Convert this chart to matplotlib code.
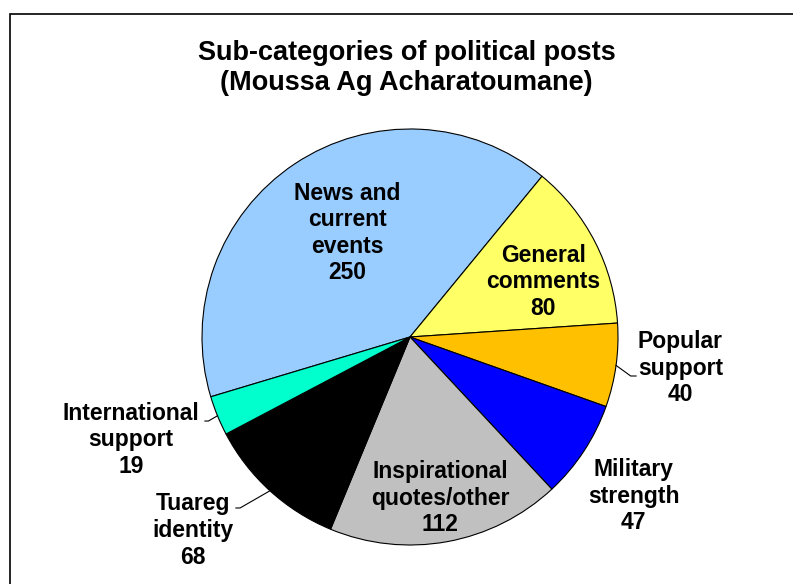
import matplotlib.pyplot as plt
import matplotlib.patches as mpatches
import numpy as np

plt.rcParams['font.family'] = ['Liberation Sans', 'DejaVu Sans']

# Sub-categories of political posts
categories = ['News and\ncurrent\nevents', 'General\ncomments', 'Popular\nsupport',
              'Military\nstrength', 'Inspirational\nquotes/other', 'Tuareg\nidentity',
              'International\nsupport']
values = [250, 80, 40, 47, 112, 68, 19]
colors = ['#99CCFF', '#FFFF66', '#FFC000', '#0000FF', '#C0C0C0', '#000000', '#00FFCC']

# label anchor positions (pie data units, radius = 1)
label_pos = [(-0.30, 0.50), (0.64, 0.265), (1.30, -0.15), (1.075, -0.765),
             (0.145, -0.775), (-1.045, -0.93), (-1.34, -0.495)]
# leader lines: (elbow, end) for labels placed outside the pie
leaders = {2: ((1.061, -0.1875), (1.087, -0.1875)),
           5: ((-0.817, -0.822), (-0.837, -0.822)),
           6: ((-0.969, -0.404), (-0.986, -0.404))}

fig = plt.figure(figsize=(7.93, 5.84), dpi=100)
fig.patches.append(mpatches.Rectangle((10 / 793, -0.1), 1.2, 1.1 - 14 / 584,
                                      transform=fig.transFigure, fill=False,
                                      edgecolor='black', linewidth=1.2))

fig.text(0.513, 1 - 68 / 584, "Sub-categories of political posts\n(Moussa Ag Acharatoumane)",
         ha='center', va='center', fontsize=19.5, fontweight='bold', linespacing=1.22)

ax = fig.add_axes([202 / 793, 39 / 584, 416 / 793, 416 / 584])
wedges, _ = ax.pie(values, colors=colors, startangle=196.7, counterclock=False,
                   wedgeprops=dict(edgecolor='black', linewidth=0.8))
ax.set_xlim(-1, 1)
ax.set_ylim(-1, 1)

for i, (w, lab, val) in enumerate(zip(wedges, categories, values)):
    x, y = label_pos[i]
    ax.text(x, y, f"{lab}\n{val}", ha='center', va='center', fontsize=16.5,
            fontweight='bold', linespacing=1.2, clip_on=False)
    if i in leaders:
        mid = np.deg2rad((w.theta1 + w.theta2) / 2)
        (ex, ey), (tx, ty) = leaders[i]
        ax.plot([np.cos(mid), ex, tx], [np.sin(mid), ey, ty], color='black',
                linewidth=0.8, clip_on=False)

fig.savefig('out.png', dpi=100)
